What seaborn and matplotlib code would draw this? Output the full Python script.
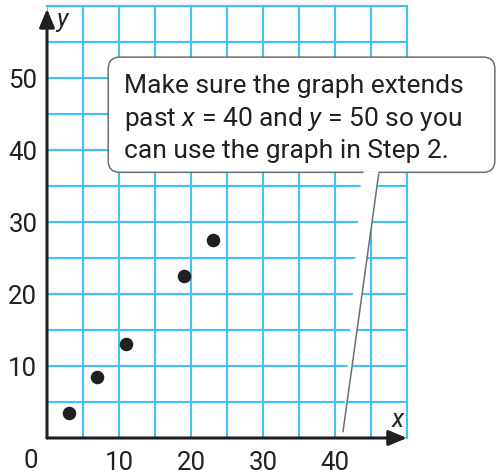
import numpy as np
import pandas as pd
import seaborn as sns
import matplotlib.pyplot as plt
from matplotlib.patches import FancyBboxPatch, Polygon

sns.set_style("white")
plt.rcParams["font.family"] = ["Roboto", "DejaVu Sans"]
plt.rcParams["mathtext.fontset"] = "custom"
plt.rcParams["mathtext.rm"] = "Roboto"
plt.rcParams["mathtext.it"] = "Roboto:italic"

# data
x_vals = [3, 7, 11, 19, 23]
y_vals = [3.5, 8.5, 13, 22.5, 27.5]
x_ticks = [10, 20, 30, 40]
y_ticks = [10, 20, 30, 40, 50]
note_lines = ["Make sure the graph extends",
              "past $x$ = 40 and $y$ = 50 so you",
              "can use the graph in Step 2."]

grid_blue = "#3ec3f2"
ink = "#231f20"

W, H = 496, 476
fig = plt.figure(figsize=(W / 100, H / 100), dpi=100)
ax = fig.add_axes([47 / W, (H - 438) / H, 360 / W, 432 / H])

df = pd.DataFrame({"x": x_vals, "y": y_vals})
sns.scatterplot(data=df, x="x", y="y", ax=ax, s=95, color=ink, edgecolor=ink,
                linewidth=0, zorder=5, clip_on=False)

ax.set_xlim(0, 50)
ax.set_ylim(0, 60)
ax.set_xticks(x_ticks)
ax.set_yticks(y_ticks)
ax.set_xticks(np.arange(0, 51, 5), minor=True)
ax.set_yticks(np.arange(0, 61, 5), minor=True)
ax.grid(True, which="both", color=grid_blue, lw=1.5)
ax.tick_params(which="both", length=0)
ax.tick_params(axis="x", pad=9, labelsize=18.5, labelcolor=ink)
ax.tick_params(axis="y", pad=7, labelsize=18.5, labelcolor=ink)
ax.set_xlabel("")
ax.set_ylabel("")
for side in ["top", "right"]:
    ax.spines[side].set_color(grid_blue)
    ax.spines[side].set_linewidth(1.5)
for side in ["left", "bottom"]:
    ax.spines[side].set_visible(False)

arrow = dict(arrowstyle="-|>,head_length=0.55,head_width=0.23", lw=2.2,
             color=ink, mutation_scale=20, shrinkA=0, shrinkB=0)
ax.annotate("", xy=(0, 59.6), xytext=(0, 0), arrowprops=arrow,
            annotation_clip=False, zorder=6)
ax.annotate("", xy=(50, 0), xytext=(0, 0), arrowprops=arrow,
            annotation_clip=False, zorder=6)

ax.text(-2.2, -3.2, "0", fontsize=18.5, color=ink, ha="center", va="center",
        clip_on=False)
ax.text(2.1, 58.0, "y", fontsize=18, style="italic", color=ink,
        ha="center", va="center")
ax.text(48.7, 2.5, "x", fontsize=18, style="italic", color=ink,
        ha="center", va="center")

# callout box with its pointer
box = FancyBboxPatch((8.5, 36.9), 53.7, 16.0,
                     boxstyle="round,pad=0,rounding_size=1.6",
                     facecolor="white", edgecolor="#6d6e71", lw=1.1,
                     clip_on=False, zorder=7, mutation_aspect=1)
ax.add_patch(box)
tail = Polygon([(43.7, 36.9), (46.1, 36.9), (41.1, 0.8)], closed=False,
               facecolor="white", edgecolor="#6d6e71", lw=1.1, zorder=7,
               clip_on=False)
ax.add_patch(tail)
ax.plot([43.85, 45.95], [36.9, 36.9], color="white", lw=2, zorder=8,
        solid_capstyle="butt", clip_on=False)
for i, line in enumerate(note_lines):
    ax.text(10.75, 47.9 - 4.5 * i, line, fontsize=19, color=ink,
            ha="left", va="baseline", zorder=9)

fig.savefig("out.png", dpi=100)
